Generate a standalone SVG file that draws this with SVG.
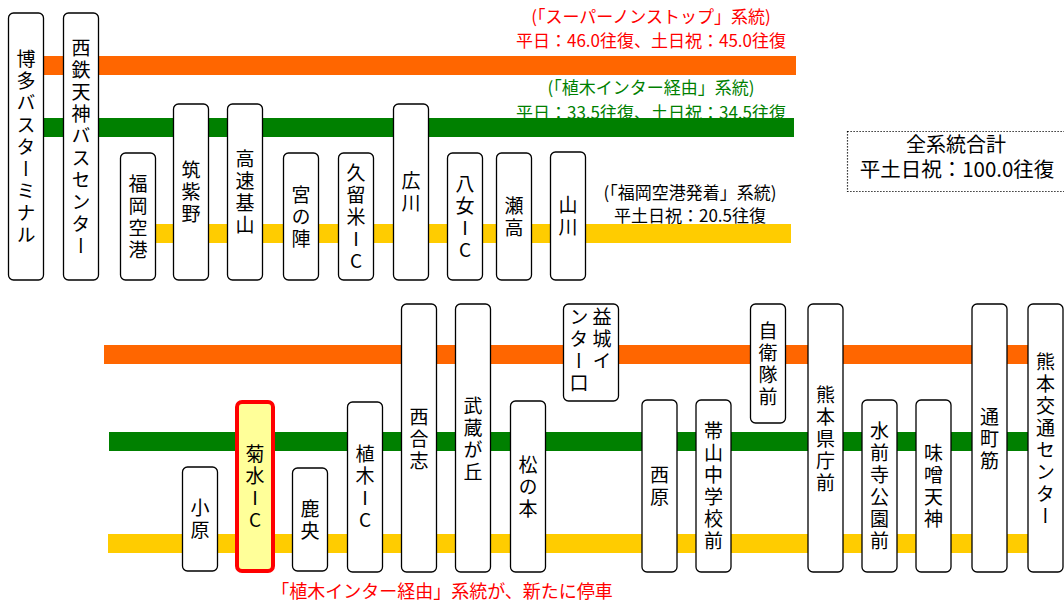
<svg xmlns="http://www.w3.org/2000/svg" width="1064" height="604" viewBox="0 0 1064 604">
<style>
.box{fill:#fff;stroke:#000;stroke-width:1.3}
.v{font-family:"Noto Sans CJK JP","Noto Sans",sans-serif;font-size:19px;fill:#000;writing-mode:vertical-rl;text-orientation:upright;text-anchor:middle;letter-spacing:3px}
.vs{font-family:"Noto Sans CJK JP","Noto Sans",sans-serif;font-size:19px;fill:#000;writing-mode:vertical-rl;text-orientation:upright;text-anchor:start;letter-spacing:3px}
.lbl{font-family:"Noto Sans CJK JP","Noto Sans",sans-serif;font-size:17px;text-anchor:middle}
.or{stroke:#FF6600;stroke-width:19;fill:none}
.gr{stroke:#008000;stroke-width:19;fill:none}
.ye{stroke:#FFCC00;stroke-width:19;fill:none}
</style>
<rect width="1064" height="604" fill="#fff"/>
<g id="labels">
<text class="lbl" x="651" y="23" fill="#FF0000">(「スーパーノンストップ」系統)</text>
<text class="lbl" x="651" y="47" fill="#FF0000">平日：46.0往復、土日祝：45.0往復</text>
<text class="lbl" x="651" y="94" fill="#008000">(「植木インター経由」系統)</text>
<text class="lbl" x="651" y="119" fill="#008000">平日：33.5往復、土日祝：34.5往復</text>
<text class="lbl" x="690" y="199" fill="#000">(「福岡空港発着」系統)</text>
<text class="lbl" x="690" y="222" fill="#000">平土日祝：20.5往復</text>
</g>
<g id="total">
<rect x="847.5" y="131.5" width="230" height="60" fill="none" stroke="#000" stroke-width="1.2" stroke-dasharray="1.2,1.8"/>
<text class="lbl" x="956" y="152" fill="#000" style="font-size:20px">全系統合計</text>
<text class="lbl" x="957" y="177" fill="#000" style="font-size:20.5px">平土日祝：100.0往復</text>
</g>
<g id="connectors">
<line class="or" x1="26" y1="65.5" x2="796" y2="65.5"/>
<line class="gr" x1="26" y1="127.5" x2="794" y2="127.5"/>
<line class="ye" x1="138" y1="233.5" x2="791" y2="233.5"/>
<line class="or" x1="104" y1="354.5" x2="1045" y2="354.5"/>
<line class="gr" x1="109" y1="441.5" x2="1045" y2="441.5"/>
<line class="ye" x1="108" y1="543.5" x2="1045" y2="543.5"/>
</g>
<g id="n-hakata"><rect class="box" x="8.5" y="13" width="35" height="267" rx="5"/><text class="v" x="26" y="148">博多バスターミナル</text></g>
<g id="n-tenjin"><rect class="box" x="63.5" y="13" width="35" height="267" rx="5"/><text class="v" x="81" y="148">西鉄天神バスセンター</text></g>
<g id="n-fukuokakuko"><rect class="box" x="120.5" y="153" width="35" height="127" rx="5"/><text class="v" x="138" y="218">福岡空港</text></g>
<g id="n-chikushino"><rect class="box" x="173.5" y="104" width="35" height="176" rx="5"/><text class="v" x="191" y="193">筑紫野</text></g>
<g id="n-kosokukiyama"><rect class="box" x="227.5" y="104" width="35" height="176" rx="5"/><text class="v" x="245" y="193">高速基山</text></g>
<g id="n-miyanojin"><rect class="box" x="283.5" y="153" width="35" height="127" rx="5"/><text class="v" x="301" y="218">宮の陣</text></g>
<g id="n-kurumeic"><rect class="box" x="338.5" y="153" width="35" height="127" rx="5"/><text class="v" x="356" y="218">久留米IC</text></g>
<g id="n-hirokawa"><rect class="box" x="393.5" y="104" width="35" height="176" rx="5"/><text class="v" x="411" y="193">広川</text></g>
<g id="n-yameic"><rect class="box" x="447.5" y="153" width="35" height="127" rx="5"/><text class="v" x="465" y="218">八女IC</text></g>
<g id="n-setaka"><rect class="box" x="496.5" y="153" width="35" height="127" rx="5"/><text class="v" x="514" y="218">瀬高</text></g>
<g id="n-yamakawa"><rect class="box" x="550.5" y="152" width="35" height="128" rx="5"/><text class="v" x="568" y="217">山川</text></g>
<g id="n-obaru"><rect class="box" x="182.5" y="467" width="35" height="104" rx="5"/><text class="v" x="200" y="520">小原</text></g>
<g id="n-kikuchiic"><rect x="237" y="402" width="36" height="169" rx="5" fill="#FFFF99" stroke="#FF0000" stroke-width="4"/><text class="v" x="255" y="488">菊水IC</text></g>
<g id="n-kao"><rect class="box" x="292.5" y="468" width="35" height="103" rx="5"/><text class="v" x="310" y="521">鹿央</text></g>
<g id="n-uekiic"><rect class="box" x="347.5" y="402" width="35" height="170" rx="5"/><text class="v" x="365" y="488">植木IC</text></g>
<g id="n-koshi"><rect class="box" x="401.5" y="304" width="35" height="268" rx="5"/><text class="v" x="419" y="440">西合志</text></g>
<g id="n-musashigaoka"><rect class="box" x="455.5" y="304" width="35" height="268" rx="5"/><text class="v" x="473" y="440">武蔵が丘</text></g>
<g id="n-matsunomoto"><rect class="box" x="510.5" y="401" width="35" height="171" rx="5"/><text class="v" x="528" y="488">松の本</text></g>
<g id="n-mashikiic"><rect class="box" x="563.5" y="304" width="55" height="97" rx="5"/><text class="vs" x="602" y="307">益城イ</text><text class="vs" x="579" y="307">ンター口</text></g>
<g id="n-nishibaru"><rect class="box" x="642" y="400" width="35" height="172" rx="5"/><text class="v" x="659.5" y="487">西原</text></g>
<g id="n-obiyama"><rect class="box" x="696" y="400" width="35" height="172" rx="5"/><text class="v" x="713.5" y="487">帯山中学校前</text></g>
<g id="n-jieitai"><rect class="box" x="750.5" y="304" width="35" height="119" rx="5"/><text class="v" x="768" y="365">自衛隊前</text></g>
<g id="n-kencho"><rect class="box" x="808" y="304" width="35" height="268" rx="5"/><text class="v" x="825.5" y="440">熊本県庁前</text></g>
<g id="n-suizenji"><rect class="box" x="862" y="400" width="35" height="172" rx="5"/><text class="v" x="879.5" y="487">水前寺公園前</text></g>
<g id="n-misotenjin"><rect class="box" x="916" y="400" width="35" height="172" rx="5"/><text class="v" x="933.5" y="487">味噌天神</text></g>
<g id="n-torichosuji"><rect class="box" x="972" y="304" width="35" height="268" rx="5"/><text class="v" x="989.5" y="440">通町筋</text></g>
<g id="n-kotsucenter"><rect class="box" x="1028" y="304" width="35" height="268" rx="5"/><text class="v" x="1045.5" y="440">熊本交通センター</text></g>
<g id="note"><text class="lbl" x="442" y="598" fill="#FF0000" style="font-size:18px">「植木インター経由」系統が、新たに停車</text></g>
</svg>
